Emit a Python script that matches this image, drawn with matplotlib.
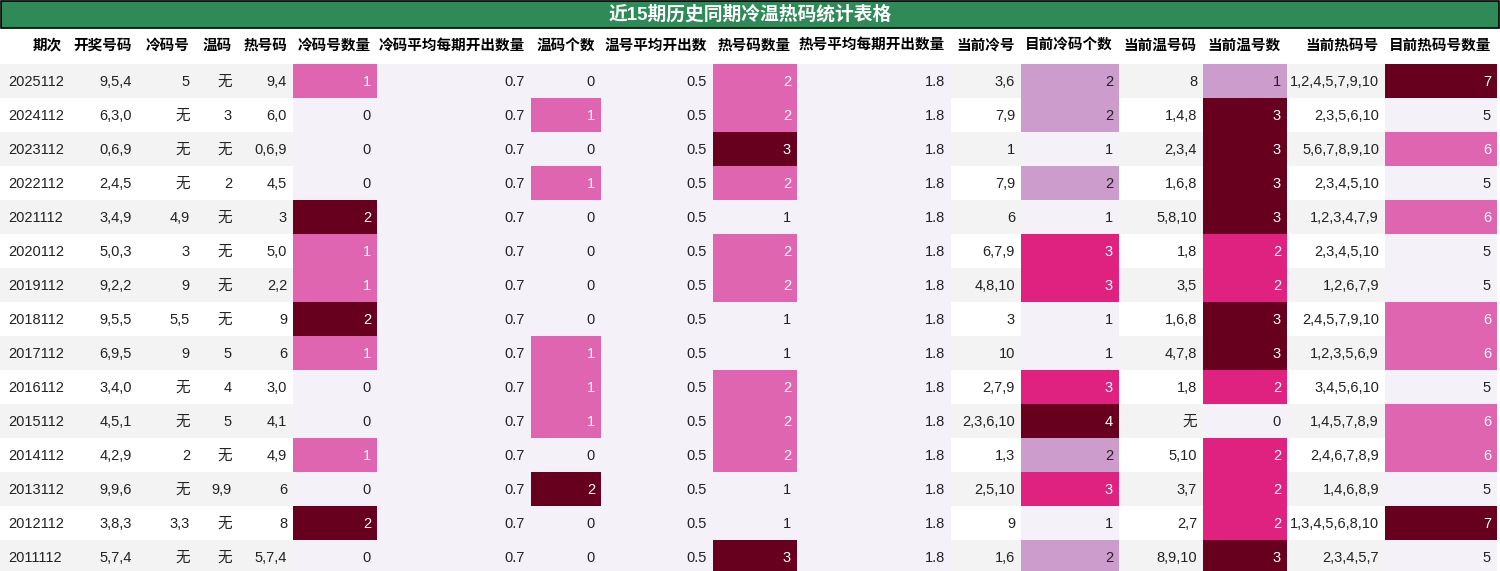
import matplotlib
matplotlib.use("Agg")
import matplotlib.pyplot as plt
from matplotlib.patches import Rectangle

plt.rcParams['font.family'] = ['Liberation Sans', 'Noto Sans CJK SC', 'DejaVu Sans']

TITLE = "近15期历史同期冷温热码统计表格"
HEADERS = ["期次", "开奖号码", "冷码号", "温码", "热号码", "冷码号数量", "冷码平均每期开出数量",
           "温码个数", "温号平均开出数", "热号码数量", "热号平均每期开出数量", "当前冷号",
           "目前冷码个数", "当前温号码", "当前温号数", "当前热码号", "目前热码号数量"]

periods = ["2025112", "2024112", "2023112", "2022112", "2021112", "2020112", "2019112", "2018112",
           "2017112", "2016112", "2015112", "2014112", "2013112", "2012112", "2011112"]
draws = ["9,5,4", "6,3,0", "0,6,9", "2,4,5", "3,4,9", "5,0,3", "9,2,2", "9,5,5", "6,9,5", "3,4,0",
         "4,5,1", "4,2,9", "9,9,6", "3,8,3", "5,7,4"]
cold_nums = ["5", "无", "无", "无", "4,9", "3", "9", "5,5", "9", "无", "无", "2", "无", "3,3", "无"]
warm_nums = ["无", "3", "无", "2", "无", "无", "无", "无", "5", "4", "5", "无", "9,9", "无", "无"]
hot_nums = ["9,4", "6,0", "0,6,9", "4,5", "3", "5,0", "2,2", "9", "6", "3,0", "4,1", "4,9", "6", "8", "5,7,4"]
cold_cnt = [1, 0, 0, 0, 2, 1, 1, 2, 1, 0, 0, 1, 0, 2, 0]
cold_avg = [0.7] * 15
warm_cnt = [0, 1, 0, 1, 0, 0, 0, 0, 1, 1, 1, 0, 2, 0, 0]
warm_avg = [0.5] * 15
hot_cnt = [2, 2, 3, 2, 1, 2, 2, 1, 1, 2, 2, 2, 1, 1, 3]
hot_avg = [1.8] * 15
cur_cold = ["3,6", "7,9", "1", "7,9", "6", "6,7,9", "4,8,10", "3", "10", "2,7,9", "2,3,6,10", "1,3",
            "2,5,10", "9", "1,6"]
cur_cold_cnt = [2, 2, 1, 2, 1, 3, 3, 1, 1, 3, 4, 2, 3, 1, 2]
cur_warm = ["8", "1,4,8", "2,3,4", "1,6,8", "5,8,10", "1,8", "3,5", "1,6,8", "4,7,8", "1,8", "无",
            "5,10", "3,7", "2,7", "8,9,10"]
cur_warm_cnt = [1, 3, 3, 3, 3, 2, 2, 3, 3, 2, 0, 2, 2, 2, 3]
cur_hot = ["1,2,4,5,7,9,10", "2,3,5,6,10", "5,6,7,8,9,10", "2,3,4,5,10", "1,2,3,4,7,9", "2,3,4,5,10",
           "1,2,6,7,9", "2,4,5,7,9,10", "1,2,3,5,6,9", "3,4,5,6,10", "1,4,5,7,8,9", "2,4,6,7,8,9",
           "1,4,6,8,9", "1,3,4,5,6,8,10", "2,3,4,5,7"]
cur_hot_cnt = [7, 5, 6, 5, 6, 5, 5, 6, 6, 5, 6, 6, 5, 7, 5]

columns = [periods, draws, cold_nums, warm_nums, hot_nums, cold_cnt, cold_avg, warm_cnt, warm_avg,
           hot_cnt, hot_avg, cur_cold, cur_cold_cnt, cur_warm, cur_warm_cnt, cur_hot, cur_hot_cnt]
HEAT_COLS = {5, 6, 7, 8, 9, 10, 12, 14, 16}

EDGES = [0, 68, 138, 196, 238, 293, 377, 531, 601, 713, 797, 951, 1021, 1119, 1203, 1287, 1385, 1497]
TITLE_H, HEAD_H, ROW_H, TOP = 27, 35, 34, 64

LIGHT = "#f4f2f8"
PALETTE3 = [LIGHT, "#df65b0", "#67001f"]
PALETTE5 = [LIGHT, "#cc9dcc", "#df2180", "#67001f"]


def heat_color(col, v):
    levels = sorted(set(col))
    i = levels.index(v)
    pal = PALETTE3 if len(levels) <= 3 else PALETTE5
    if len(levels) == 1:
        return LIGHT
    return pal[min(i, len(pal) - 1)]


fig = plt.figure(figsize=(15, 5.71), dpi=100)
ax = fig.add_axes([0, 0, 1, 1])
ax.set_xlim(0, 1500)
ax.set_ylim(571, 0)
ax.axis("off")

ax.add_patch(Rectangle((0.5, 0.5), 1498, TITLE_H, facecolor="#2e8b57", edgecolor="black", lw=1.2))
ax.text(750, TITLE_H / 2 + 1, TITLE, color="white", fontsize=13.5, fontweight="bold",
        ha="center", va="center")

for j, h in enumerate(HEADERS):
    ax.text(EDGES[j + 1] - 6, TITLE_H + HEAD_H / 2 + 1, h, fontsize=10.5, fontweight="bold",
            ha="right", va="center")

for j, col in enumerate(columns):
    x0, x1 = EDGES[j], EDGES[j + 1]
    for i, v in enumerate(col):
        y0 = TOP + i * ROW_H
        if j in HEAT_COLS:
            fc = heat_color(col, v)
        else:
            fc = "#f3f3f3" if i % 2 == 0 else "white"
        ax.add_patch(Rectangle((x0, y0), x1 - x0, ROW_H, facecolor=fc, edgecolor="none"))
        tc = "white" if fc in ("#df65b0", "#67001f", "#df2180") else "#222222"
        ha, tx = ("left", x0 + 8) if j == 0 else ("right", x1 - 6)
        ax.text(tx, y0 + ROW_H / 2 + 1, str(v), fontsize=10.5, color=tc, ha=ha, va="center")

fig.savefig("out.png", dpi=100)
